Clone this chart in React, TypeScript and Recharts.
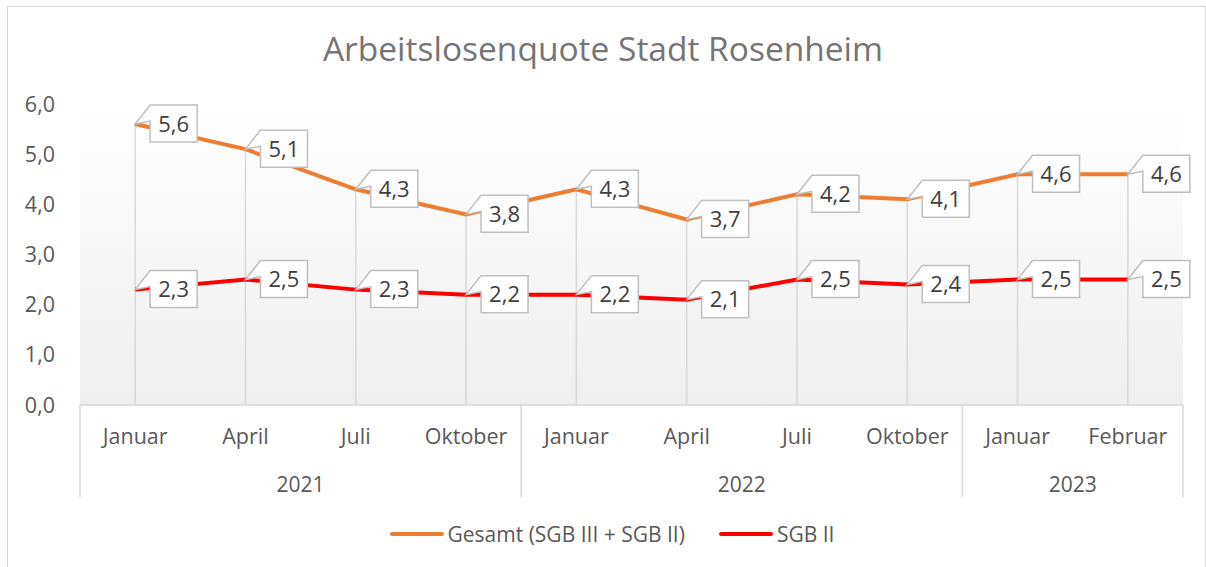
import {
  LabelList,
  Legend,
  Line,
  LineChart,
  ReferenceLine,
  XAxis,
  YAxis,
  CartesianGrid,
} from "recharts";

const months = ["Januar", "April", "Juli", "Oktober", "Januar", "April", "Juli", "Oktober", "Januar", "Februar"];
const years = ["2021", "2021", "2021", "2021", "2022", "2022", "2022", "2022", "2023", "2023"];
const gesamt = [5.6, 5.1, 4.3, 3.8, 4.3, 3.7, 4.2, 4.1, 4.6, 4.6];
const sgb2 = [2.3, 2.5, 2.3, 2.2, 2.2, 2.1, 2.5, 2.4, 2.5, 2.5];
const yTicks = [0, 1, 2, 3, 4, 5, 6];

const FONT = "'Open Sans', sans-serif";
const ORANGE = "#ED7D31";
const RED = "#FF0000";
const GRID = "#d9d9d9";

const data = months.map((m, i) => ({
  key: `${years[i]}-${i}`,
  pos: i + 0.5,
  month: m,
  gesamt: gesamt[i],
  sgb2: sgb2[i],
}));

// year groups on a 0..n numeric axis: boundaries and centres
const groups: { year: string; start: number; end: number }[] = [];
years.forEach((y, i) => {
  const last = groups[groups.length - 1];
  if (last && last.year === y) last.end = i + 1;
  else groups.push({ year: y, start: i, end: i + 1 });
});
const boundaries = [0, ...groups.map((g) => g.end)];
const yearTicks = [...boundaries, ...groups.map((g) => (g.start + g.end) / 2)].sort((a, b) => a - b);

const fmt = (v: number) => v.toFixed(1).replace(".", ",");

function Callout(props: any) {
  const { x, y, value } = props;
  const w = 47;
  const h = 37;
  const left = x + 15;
  const top = y - 19;
  return (
    <g>
      <path
        d={`M${x},${y} L${left},${top} L${left + w},${top} L${left + w},${top + h} L${left},${top + h} L${left},${top + 16} Z`}
        fill="#fff"
        stroke="#bfbfbf"
        strokeWidth={1.5}
      />
      <text
        x={left + w / 2}
        y={top + h / 2 + 8}
        textAnchor="middle"
        fontSize={22}
        fontFamily={FONT}
        fill="#404040"
      >
        {fmt(value)}
      </text>
    </g>
  );
}

function YearTick(props: any) {
  const { x, y, payload } = props;
  const v = payload.value as number;
  if (boundaries.includes(v)) {
    return <line x1={x} x2={x} y1={y - 48} y2={y + 44} stroke={GRID} strokeWidth={1.5} />;
  }
  const g = groups.find((gr) => (gr.start + gr.end) / 2 === v);
  return (
    <text x={x} y={y + 39} textAnchor="middle" fontSize={21} fontFamily={FONT} fill="#595959">
      {g ? g.year : ""}
    </text>
  );
}

function LegendContent() {
  const items = [
    { label: "Gesamt (SGB III + SGB II)", color: ORANGE },
    { label: "SGB II", color: RED },
  ];
  return (
    <div
      style={{
        display: "flex",
        justifyContent: "center",
        alignItems: "center",
        gap: 34,
        height: 30,
        paddingLeft: 18,
        fontFamily: FONT,
        fontSize: 21,
        color: "#595959",
      }}
    >
      {items.map((it) => (
        <div key={it.label} style={{ display: "flex", alignItems: "center" }}>
          <div style={{ width: 54, height: 4, borderRadius: 2, background: it.color, marginRight: 4 }} />
          <span>{it.label}</span>
        </div>
      ))}
    </div>
  );
}

export default function App() {
  return (
    <div style={{ position: "absolute", left: 0, top: 0, width: 1206, height: 567, overflow: "hidden", background: "#fff" }}>
      <div
        style={{
          position: "absolute",
          left: 7,
          top: 6,
          width: 1197,
          height: 600,
          border: "1.5px solid #d9d9d9",
        }}
      />
      <div
        style={{
          position: "absolute",
          top: 25,
          left: 0,
          width: 1206,
          textAlign: "center",
          fontFamily: FONT,
          fontSize: 33.5,
          color: "#757575",
        }}
      >
        Arbeitslosenquote Stadt Rosenheim
      </div>
      <div style={{ position: "absolute", left: 0, top: 0 }}>
        <LineChart width={1206} height={567} data={data} margin={{ top: 104, right: 23, left: 0, bottom: 40 }}>
          <defs>
            <linearGradient id="plotBg" x1="0" y1="0" x2="0" y2="1">
              <stop offset="0%" stopColor="#ffffff" />
              <stop offset="14%" stopColor="#fdfdfd" />
              <stop offset="100%" stopColor="#efefef" />
            </linearGradient>
          </defs>
          <CartesianGrid horizontal={false} vertical={false} fill="url(#plotBg)" />
          <XAxis
            dataKey="key"
            scale="band"
            height={48}
            tickFormatter={(_v, i) => months[i]}
            interval={0}
            tick={{ fontSize: 21.5, fontFamily: FONT, fill: "#595959" }}
            tickLine={false}
            tickMargin={18}
            axisLine={{ stroke: GRID, strokeWidth: 1.5 }}
          />
          <XAxis
            xAxisId="year"
            dataKey="pos"
            type="number"
            domain={[0, years.length]}
            allowDataOverflow
            ticks={yearTicks}
            interval={0}
            height={44}
            tick={<YearTick />}
            tickLine={false}
            tickSize={0}
            tickMargin={0}
            axisLine={false}
          />
          <YAxis
            width={80}
            domain={[0, 6]}
            ticks={yTicks}
            tickFormatter={fmt}
            tick={{ fontSize: 21.5, fontFamily: FONT, fill: "#595959" }}
            axisLine={false}
            tickLine={false}
            tickMargin={19}
          />
          {data.map((d) => (
            <ReferenceLine
              key={d.key}
              segment={[
                { x: d.key, y: Math.max(d.gesamt, d.sgb2) },
                { x: d.key, y: 0 },
              ]}
              stroke={GRID}
              strokeWidth={1.5}
            />
          ))}
          <Legend
            content={<LegendContent />}
            verticalAlign="bottom"
            wrapperStyle={{ top: 519, left: 0, width: 1206 }}
          />
          <Line
            type="linear"
            dataKey="gesamt"
            name="Gesamt (SGB III + SGB II)"
            stroke={ORANGE}
            strokeWidth={4}
            dot={false}
            activeDot={false}
            isAnimationActive={false}
          >
            <LabelList dataKey="gesamt" content={<Callout />} />
          </Line>
          <Line
            type="linear"
            dataKey="sgb2"
            name="SGB II"
            stroke={RED}
            strokeWidth={4}
            dot={false}
            activeDot={false}
            isAnimationActive={false}
          >
            <LabelList dataKey="sgb2" content={<Callout />} />
          </Line>
        </LineChart>
      </div>
    </div>
  );
}
